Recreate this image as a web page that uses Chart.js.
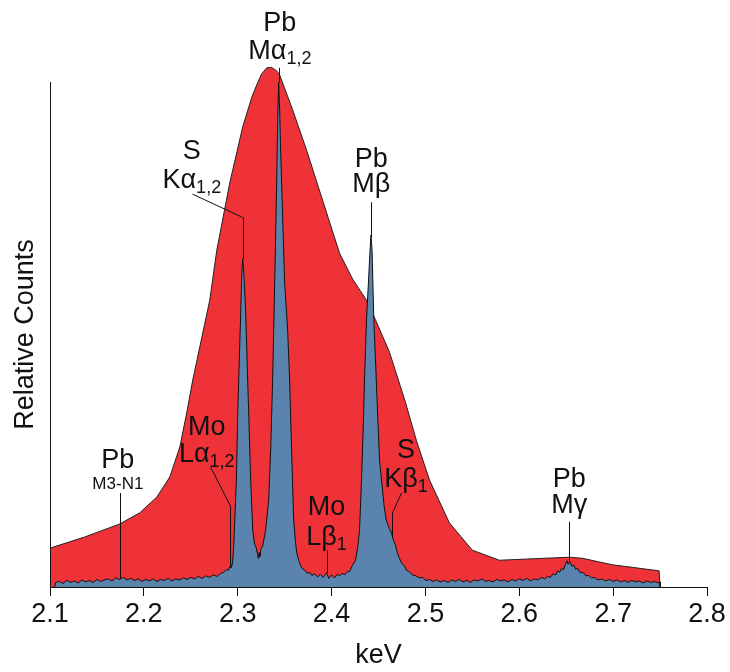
<!DOCTYPE html>
<html>
<head>
<meta charset="utf-8">
<script src="https://cdn.jsdelivr.net/npm/chart.js@4.4.0/dist/chart.umd.min.js"></script>
<style>
  html, body { margin: 0; padding: 0; background: #fff; }
</style>
</head>
<body>
<canvas id="spectrum" width="730" height="672"></canvas>
<script>
// EDS envelope (red)
const edsKeV = [2.100, 2.137, 2.1745, 2.1957, 2.2138, 2.2277, 2.2383, 2.2457, 2.2521, 2.2702,
    2.2777, 2.2915, 2.3053, 2.3150, 2.3202, 2.3255, 2.3309, 2.3360, 2.3415, 2.3447,
    2.3585, 2.3734, 2.3904, 2.4085, 2.4223, 2.4372, 2.4468, 2.4617, 2.4787, 2.4904,
    2.5043, 2.5255, 2.5500, 2.5787, 2.6532, 2.6670, 2.6990, 2.7490, 2.7500];
const edsCounts = [7.7, 9.9, 12.5, 14.7, 17.8, 21.8, 27.7, 34.5, 41.0, 56.8,
    66.7, 80.0, 91.1, 97.0, 99.4, 101.6, 102.8, 102.9, 102.2, 101.4,
    94.5, 86.5, 76.6, 66.1, 61.0, 56.8, 52.9, 46.5, 36.6, 29.0,
    21.2, 12.7, 7.3, 5.3, 5.9, 5.7, 4.4, 3.2, 0];

// WDS spectrum (blue)
const wdsKeV = [2.105, 2.106, 2.110, 2.114, 2.118, 2.122, 2.126, 2.130, 2.134, 2.138,
    2.142, 2.146, 2.150, 2.154, 2.158, 2.162, 2.166, 2.170, 2.174, 2.178,
    2.182, 2.186, 2.190, 2.194, 2.198, 2.202, 2.206, 2.210, 2.214, 2.218,
    2.222, 2.226, 2.230, 2.234, 2.238, 2.242, 2.246, 2.250, 2.254, 2.258,
    2.262, 2.266, 2.270, 2.274, 2.278, 2.282, 2.285, 2.288, 2.290, 2.2915,
    2.293, 2.2944, 2.2957, 2.2986, 2.3000, 2.3011, 2.3032, 2.3043, 2.3053, 2.3064,
    2.3085, 2.3106, 2.3117, 2.3138, 2.3160, 2.3180, 2.3195, 2.3210, 2.3220, 2.3228,
    2.3236, 2.3246, 2.3266, 2.3298, 2.3330, 2.3351, 2.3372, 2.3394, 2.3415, 2.3426,
    2.3436, 2.3447, 2.3457, 2.3468, 2.3500, 2.3532, 2.3553, 2.3574, 2.3596, 2.3615,
    2.3628, 2.3650, 2.3681, 2.3710, 2.3740, 2.3766, 2.3790, 2.3820, 2.3851, 2.3880,
    2.3910, 2.3947, 2.3970, 2.4000, 2.4030, 2.4060, 2.4085, 2.4110, 2.4140, 2.4170,
    2.4191, 2.4220, 2.4255, 2.4280, 2.4298, 2.4319, 2.4340, 2.4351, 2.4372, 2.4394,
    2.4408, 2.4420, 2.4432, 2.4450, 2.4468, 2.4493, 2.4511, 2.4532, 2.4560, 2.4582,
    2.4610, 2.4638, 2.4660, 2.4681, 2.4700, 2.4723, 2.4750, 2.4777, 2.4800, 2.4830,
    2.4860, 2.4900, 2.4936, 2.4970, 2.5005, 2.5043, 2.508, 2.512, 2.516, 2.520,
    2.524, 2.528, 2.532, 2.536, 2.540, 2.544, 2.548, 2.552, 2.556, 2.560,
    2.564, 2.568, 2.572, 2.576, 2.580, 2.584, 2.588, 2.592, 2.596, 2.600,
    2.604, 2.608, 2.612, 2.616, 2.620, 2.624, 2.627, 2.630, 2.633, 2.636,
    2.639, 2.641, 2.643, 2.645, 2.647, 2.649, 2.651, 2.652, 2.654, 2.656,
    2.658, 2.660, 2.662, 2.665, 2.668, 2.671, 2.674, 2.677, 2.680, 2.684,
    2.688, 2.692, 2.696, 2.700, 2.704, 2.708, 2.712, 2.716, 2.720, 2.724,
    2.728, 2.732, 2.736, 2.740, 2.744, 2.748, 2.750, 2.7501];
const wdsCounts = [0, 0.9, 1.1, 0.7, 1.3, 0.9, 1.2, 0.8, 1.4, 1.0,
    1.3, 0.9, 1.5, 1.1, 1.4, 1.6, 1.2, 1.8, 1.5, 1.9,
    1.4, 1.7, 1.3, 1.6, 1.1, 1.5, 1.2, 1.6, 1.1, 1.5,
    1.3, 1.7, 1.2, 1.6, 1.4, 1.8, 1.5, 1.9, 1.6, 2.1,
    1.7, 2.2, 1.9, 2.4, 2.1, 2.7, 2.9, 3.5, 3.3, 4.0,
    3.8, 4.75, 7.9, 21.2, 34.5, 41.0, 54.3, 62.0, 65.0, 62.5,
    54.3, 41.0, 34.5, 21.2, 11.3, 8.4, 7.9, 6.6, 5.6, 6.8,
    6.0, 7.4, 8.1, 11.3, 17.2, 27.1, 41.0, 60.2, 80.0, 92.5,
    100.0, 94.5, 86.5, 80.0, 60.2, 50.9, 41.0, 27.1, 13.3, 9.0,
    6.9, 5.2, 3.8, 3.4, 2.7, 2.9, 2.3, 2.6, 2.0, 2.5,
    1.9, 2.8, 1.7, 2.4, 1.8, 2.5, 2.2, 2.7, 2.4, 3.1,
    3.0, 4.2, 5.3, 8.0, 11.3, 21.2, 33.1, 41.0, 52.9, 60.8,
    66.0, 69.7, 66.5, 52.9, 45.0, 33.1, 25.1, 21.2, 16.0, 13.3,
    11.8, 10.7, 9.2, 8.3, 6.8, 5.7, 4.6, 4.2, 3.3, 3.0,
    2.4, 2.2, 1.8, 1.9, 1.3, 1.5, 1.1, 1.4, 1.0, 1.3,
    0.9, 1.4, 1.1, 1.5, 1.0, 1.3, 0.9, 1.4, 1.2, 1.6,
    1.1, 1.3, 1.0, 1.5, 1.2, 1.4, 1.0, 1.5, 1.2, 1.6,
    1.3, 1.7, 1.2, 1.6, 1.4, 1.9, 1.6, 2.1, 1.9, 2.6,
    2.4, 3.2, 2.9, 3.7, 3.4, 4.4, 5.2, 4.5, 5.0, 4.1,
    4.4, 3.5, 3.7, 2.8, 2.9, 2.2, 2.3, 1.8, 1.9, 1.4,
    1.6, 1.2, 1.5, 1.1, 1.4, 1.0, 1.3, 0.9, 1.3, 1.0,
    1.2, 0.8, 1.2, 0.9, 1.1, 0.8, 1.0, 0];

// x axis ticks (keV)
const tickValues = [2.1, 2.2, 2.3, 2.4, 2.5, 2.6, 2.7, 2.8];

// peak labels: element, line, subscript, label centre (keV), baselines of the two rows (counts)
const peakElement = ['Pb', 'S', 'Pb', 'Mo', 'Pb', 'Mo', 'S', 'Pb'];
const peakLine = ['M\u03b1', 'K\u03b1', 'M\u03b2', 'L\u03b1', 'M3-N1', 'L\u03b2', 'K\u03b2', 'M\u03b3'];
const peakSub = ['1,2', '1,2', '', '1,2', '', '1', '1', ''];
const peakLabelKeV = [2.3449, 2.2511, 2.4422, 2.2670, 2.1723, 2.3947, 2.4793, 2.6532];
const peakRow1 = [110.1, 84.8, 83.2, 30.1, 23.6, 14.3, 25.5, 19.8];
const peakRow2 = [104.6, 79.0, 78.2, 24.8, 19.4, 8.4, 19.8, 14.7];
// leader lines as [keV, counts] points
const peakLeaders = [
    [[2.3436, 102.8], [2.3436, 100.0]],
    [[2.2511, 77.8], [2.3053, 73.1], [2.3053, 65.0]],
    [[2.4422, 76.2], [2.4422, 69.3]],
    [[2.2702, 23.8], [2.2915, 16.0], [2.2915, 4.0]],
    [[2.1745, 18.6], [2.1745, 1.6]],
    [[2.3947, 7.3], [2.3947, 2.8]],
    [[2.4745, 18.6], [2.4649, 14.7], [2.4649, 9.9]],
    [[2.6532, 12.9], [2.6532, 5.0]]
];

const FONT = '"Liberation Sans", Arial, sans-serif';
const INK = '#111';

const peakPlugin = {
    id: 'peaks',
    afterDatasetsDraw(chart) {
        const { ctx, chartArea } = chart;
        const x = chart.scales.x;
        const y = chart.scales.y;
        ctx.save();
        ctx.strokeStyle = INK;
        ctx.fillStyle = INK;
        ctx.lineWidth = 1;

        // y axis line stops at the top of the counts range
        const ax = Math.round(chartArea.left) + 0.5;
        ctx.beginPath();
        ctx.moveTo(ax, y.getPixelForValue(100));
        ctx.lineTo(ax, y.getPixelForValue(0));
        ctx.stroke();

        // leader lines
        peakLeaders.forEach(pts => {
            ctx.beginPath();
            pts.forEach((p, i) => {
                const px = Math.round(x.getPixelForValue(p[0])) + 0.5;
                const py = y.getPixelForValue(p[1]);
                if (i === 0) ctx.moveTo(px, py); else ctx.lineTo(px, py);
            });
            ctx.stroke();
        });

        // labels
        ctx.textBaseline = 'alphabetic';
        ctx.textAlign = 'left';
        peakElement.forEach((el, i) => {
            const cx = x.getPixelForValue(peakLabelKeV[i]);
            ctx.font = '27px ' + FONT;
            const w0 = ctx.measureText(el).width;
            ctx.fillText(el, cx - w0 / 2, y.getPixelForValue(peakRow1[i]));

            const small = peakLine[i] === 'M3-N1';
            ctx.font = (small ? 17 : 27) + 'px ' + FONT;
            const w1 = ctx.measureText(peakLine[i]).width;
            ctx.font = '18px ' + FONT;
            const w2 = peakSub[i] ? ctx.measureText(peakSub[i]).width : 0;
            const start = cx - (w1 + w2) / 2;
            const base = y.getPixelForValue(peakRow2[i]);
            ctx.font = (small ? 17 : 27) + 'px ' + FONT;
            ctx.fillText(peakLine[i], start, base);
            if (peakSub[i]) {
                ctx.font = '18px ' + FONT;
                ctx.fillText(peakSub[i], start + w1, base + 5);
            }
        });

        // y axis title
        ctx.translate(33, y.getPixelForValue(50));
        ctx.rotate(-Math.PI / 2);
        ctx.textAlign = 'center';
        ctx.font = '27px ' + FONT;
        ctx.fillText('Relative Counts', 0, 0);
        ctx.restore();
    }
};

const ctx = document.getElementById('spectrum').getContext('2d');
new Chart(ctx, {
    type: 'line',
    data: {
        datasets: [
            {
                label: 'WDS',
                data: wdsKeV.map((k, i) => ({ x: k, y: wdsCounts[i] })),
                borderColor: INK,
                borderWidth: 1,
                backgroundColor: '#5a84ad',
                fill: 'origin',
                pointRadius: 0,
                tension: 0
            },
            {
                label: 'EDS',
                data: edsKeV.map((k, i) => ({ x: k, y: edsCounts[i] })),
                borderColor: '#222',
                borderWidth: 1,
                backgroundColor: '#ee3238',
                fill: 'origin',
                pointRadius: 0,
                tension: 0
            }
        ]
    },
    options: {
        responsive: false,
        animation: false,
        layout: { padding: { top: 6.25, right: 23, bottom: 0, left: 0 } },
        plugins: { legend: { display: false }, tooltip: { enabled: false } },
        scales: {
            x: {
                type: 'linear',
                min: 2.1,
                max: 2.8,
                afterFit(scale) { scale.height = 85; },
                afterBuildTicks(scale) { scale.ticks = tickValues.map(v => ({ value: v })); },
                ticks: {
                    callback: v => v.toFixed(1),
                    font: { family: FONT, size: 27 },
                    color: INK,
                    padding: 2,
                    maxRotation: 0,
                    autoSkip: false
                },
                grid: { display: true, drawOnChartArea: false, drawTicks: true, tickLength: 9, color: INK, lineWidth: 1 },
                border: { display: true, color: INK, width: 1 },
                title: { display: true, text: 'keV', font: { family: FONT, size: 27 }, color: INK, padding: 0 }
            },
            y: {
                min: 0,
                max: 115,
                afterFit(scale) { scale.width = 50; },
                ticks: { display: false },
                grid: { display: false },
                border: { display: false }
            }
        }
    },
    plugins: [peakPlugin]
});
</script>
</body>
</html>
